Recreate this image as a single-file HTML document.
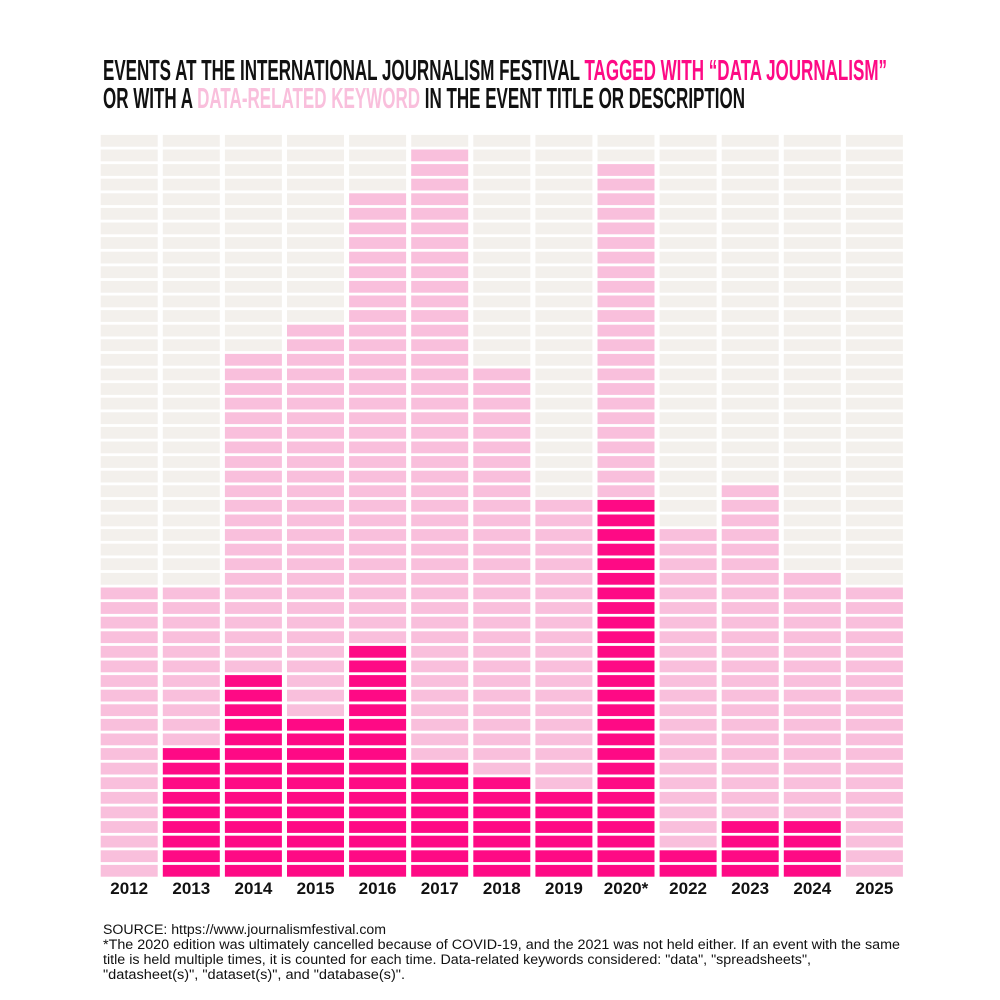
<!DOCTYPE html>
<html><head><meta charset="utf-8"><style>
body{margin:0;background:#fff;width:1000px;height:1000px;overflow:hidden}
svg{display:block}
.t{font-family:"Liberation Sans",sans-serif;font-weight:bold;font-size:29px}
.y{font-family:"Liberation Sans",sans-serif;font-weight:bold;font-size:17px;fill:#111}
.f{font-family:"Liberation Sans",sans-serif;font-size:13.5px;fill:#111}
</style></head><body>
<svg id="chart" width="1000" height="1000">
<g>
<text class="t" x="103" y="80" textLength="784" lengthAdjust="spacingAndGlyphs" fill="#111">EVENTS AT THE INTERNATIONAL JOURNALISM FESTIVAL <tspan fill="#fe0a85">TAGGED WITH “DATA JOURNALISM”</tspan></text>
<text class="t" x="103" y="108" textLength="642" lengthAdjust="spacingAndGlyphs" fill="#111">OR WITH A <tspan fill="#f9bfdc">DATA-RELATED KEYWORD</tspan> IN THE EVENT TITLE OR DESCRIPTION</text>
</g>
<g id="grid"></g>
<g id="labels"></g>
<g>
<text class="f" x="103" y="934" textLength="283" lengthAdjust="spacingAndGlyphs">SOURCE: https://www.journalismfestival.com</text>
<text class="f" x="103" y="949" textLength="797" lengthAdjust="spacingAndGlyphs">*The 2020 edition was ultimately cancelled because of COVID-19, and the 2021 was not held either. If an event with the same</text>
<text class="f" x="103" y="964" textLength="708" lengthAdjust="spacingAndGlyphs">title is held multiple times, it is counted for each time. Data-related keywords considered: "data", "spreadsheets",</text>
<text class="f" x="103" y="979" textLength="302" lengthAdjust="spacingAndGlyphs">"datasheet(s)", "dataset(s)", and "database(s)".</text>
</g>
</svg>
<script>
const years = ["2012","2013","2014","2015","2016","2017","2018","2019","2020*","2022","2023","2024","2025"];
const totalEvents = [20,20,36,38,47,50,35,26,49,24,27,21,20];
const taggedEvents = [0,9,14,11,16,8,7,6,26,2,4,4,0];
const maxRows = 51;

const NS="http://www.w3.org/2000/svg";
const grid=document.getElementById('grid'), labels=document.getElementById('labels');
const x0=100.7, colPitch=62.1, colW=57, yBottom=876.7, rowPitch=14.6, rowH=11.8;
const xPos=i=>x0+i*colPitch;
const yPos=r=>yBottom-(r+1)*rowPitch+(rowPitch-rowH);
years.forEach((yr,i)=>{
  const g=document.createElementNS(NS,'g');
  
  
  for(let r=0;r<maxRows;r++){
    const rc=document.createElementNS(NS,'rect');
    rc.setAttribute('x',xPos(i));rc.setAttribute('y',yPos(r));
    rc.setAttribute('width',colW);rc.setAttribute('height',rowH);
    const fill=r<taggedEvents[i]?'#fe0a85':(r<totalEvents[i]?'#f9bfdc':'#f3f0ec');
    rc.setAttribute('fill',fill);
    
    
    g.appendChild(rc);
  }
  grid.appendChild(g);
  const t=document.createElementNS(NS,'text');
  t.setAttribute('class','y');t.setAttribute('x',xPos(i)+colW/2);t.setAttribute('y',894);
  t.setAttribute('text-anchor','middle');t.textContent=yr;
  
  
  labels.appendChild(t);
});
</script>
</body></html>
